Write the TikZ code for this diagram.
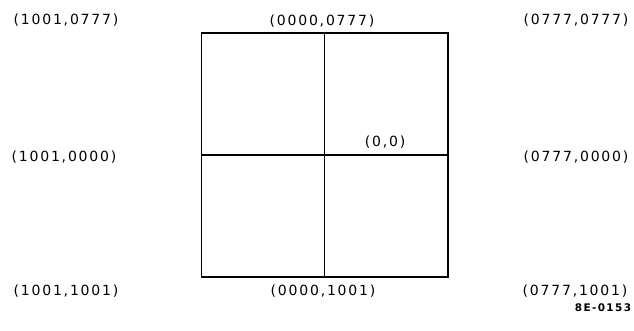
\documentclass[tikz,border=0pt]{standalone}
\usepackage{fontspec}
\setmainfont[LetterSpace=13]{DejaVu Sans}
\begin{document}
\begin{tikzpicture}[x=1pt,y=-1pt,
  lbl/.style={inner sep=0pt, font=\fontsize{14}{16}\selectfont, anchor=center},
  frame/.style={draw, line width=1.8pt, inner sep=0pt, minimum width=246.5pt, minimum height=244pt},
  divider/.style={line width=1.3pt}]
\useasboundingbox (0,0) rectangle (634,330);
\node[frame] (box) at (324.75,155) {};
\draw[divider] (box.north) -- (box.south);
\draw[divider] (box.west) -- (box.east);
\node[lbl] (tl) at (66,20) {(1001,0777)};
\node[lbl] (tc) at (322,21) {(0000,0777)};
\node[lbl] (tr) at (576,20) {(0777,0777)};
\node[lbl] (ml) at (64,157) {(1001,0000)};
\node[lbl] (mr) at (576,157) {(0777,0000)};
\node[lbl] (bl) at (66,291) {(1001,1001)};
\node[lbl] (bc) at (323,291) {(0000,1001)};
\node[lbl] (br) at (575,291) {(0777,1001)};
\node[lbl] (origin) at (385,142) {(0,0)};
\node[inner sep=0pt, font=\fontsize{10.5}{12}\bfseries] (code) at (603,308) {8E-0153};
\end{tikzpicture}
\end{document}
